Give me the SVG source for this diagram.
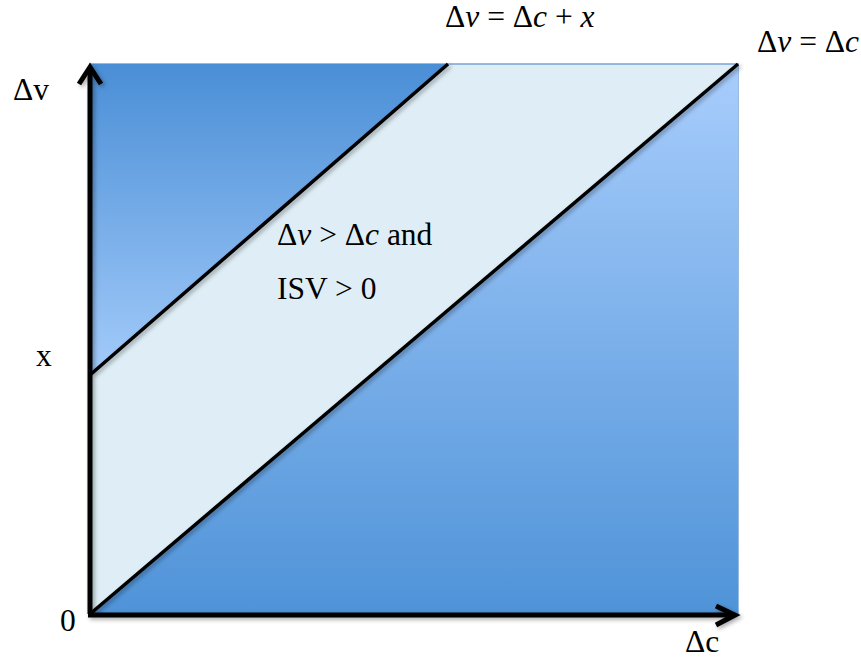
<svg xmlns="http://www.w3.org/2000/svg" width="861" height="657" viewBox="0 0 861 657">
<style>
.t{font-family:"Liberation Serif","Times New Roman",serif;font-size:31.5px;fill:#000}
.ax{stroke:#000;stroke-width:5;fill:none;stroke-linecap:butt;stroke-linejoin:miter}
.dg{stroke:#000;stroke-width:3.5;fill:none}
</style>
<defs>
<linearGradient id="gTop" gradientUnits="userSpaceOnUse" x1="0" y1="64" x2="0" y2="375">
<stop offset="0" stop-color="#4a8ed6"/><stop offset="1" stop-color="#a3cbfa"/>
</linearGradient>
<linearGradient id="gBot" gradientUnits="userSpaceOnUse" x1="0" y1="64" x2="0" y2="614">
<stop offset="0" stop-color="#a8cdfc"/><stop offset="1" stop-color="#4f93d8"/>
</linearGradient>
<filter id="sh" x="-10%" y="-10%" width="130%" height="130%">
<feDropShadow dx="2" dy="2" stdDeviation="2" flood-color="#000" flood-opacity="0.35"/>
</filter>
</defs>
<g id="plot-area">
<rect x="90" y="64" width="648" height="550" fill="#dfeef6" stroke="#7aa5d6" stroke-width="1.5"/>
<polygon points="90,64 448,64 90,375" fill="url(#gTop)"/>
<polygon points="738,64 738,614 90,614" fill="url(#gBot)"/>
</g>
<g id="connectors" filter="url(#sh)">
<line class="dg" x1="90" y1="375" x2="448" y2="64"/>
<line class="dg" x1="90" y1="614" x2="738" y2="64"/>
<polyline class="ax" points="90,614 90,67"/>
<polyline class="ax" points="79,84 90,67 101,84"/>
<polyline class="ax" points="88,615 735,615"/>
<polyline class="ax" points="716,606 735,615 716,625"/>
</g>
<g id="labels">
<text class="t" x="13" y="100">Δv</text>
<text class="t" x="36" y="366">x</text>
<text class="t" x="60" y="631">0</text>
<text class="t" x="685" y="652">Δc</text>
<text class="t" x="445" y="27">Δ<tspan font-style="italic">v</tspan> = Δ<tspan font-style="italic">c</tspan> + <tspan font-style="italic">x</tspan></text>
<text class="t" x="757" y="52">Δ<tspan font-style="italic">v</tspan> = Δ<tspan font-style="italic">c</tspan></text>
<text class="t" x="277" y="245">Δ<tspan font-style="italic">v</tspan> &gt; Δ<tspan font-style="italic">c</tspan> and</text>
<text class="t" x="277" y="299">ISV &gt; 0</text>
</g>
</svg>
